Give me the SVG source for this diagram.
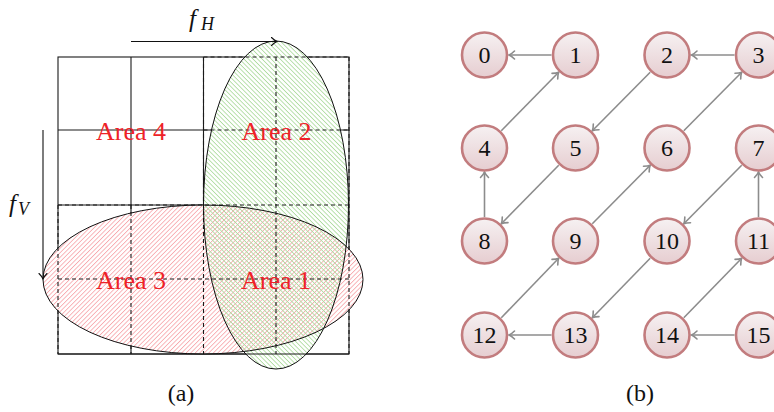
<svg xmlns="http://www.w3.org/2000/svg" width="774" height="412" viewBox="0 0 774 412">
<style>
.area{font-family:"Liberation Serif",serif;font-size:26px;fill:#ee2228;text-anchor:middle}
.math{font-family:"Liberation Serif",serif;font-style:italic;fill:#111}
.cap{font-family:"Liberation Serif",serif;font-size:24px;fill:#111;text-anchor:middle}
.node circle{fill:url(#ng);stroke:#c27c7e;stroke-width:2.6}
.node text{font-family:"Liberation Serif",serif;font-size:24px;fill:#111;text-anchor:middle}
.edge{stroke:#8c8c8c;stroke-width:1.6;fill:none;marker-end:url(#ah)}
</style>
<defs>
<pattern id="hr" patternUnits="userSpaceOnUse" x="0" y="0" width="3.2" height="3.2" patternTransform="rotate(-45)">
<rect x="0" y="0" width="3.2" height="0.85" fill="#f7a9ae"/>
</pattern>
<pattern id="hg" patternUnits="userSpaceOnUse" x="0" y="0" width="3.2" height="3.2" patternTransform="rotate(45)">
<rect x="0" y="0" width="3.2" height="0.85" fill="#addb9e"/>
</pattern>
<linearGradient id="ng" x1="0" y1="0" x2="0" y2="1">
<stop offset="0" stop-color="#f6f1f2"/>
<stop offset="1" stop-color="#e6cdd0"/>
</linearGradient>
<marker id="ah" markerUnits="userSpaceOnUse" markerWidth="12" markerHeight="12" viewBox="-8 -6 10 12" refX="0" refY="0" orient="auto" overflow="visible">
<path d="M-5.5,-4 C-3,-1.5 -1,-0.4 0,0 C-1,0.4 -3,1.5 -5.5,4" stroke="#8c8c8c" stroke-width="1.6" fill="none" stroke-linecap="round"/>
</marker>
<marker id="ak" markerUnits="userSpaceOnUse" markerWidth="12" markerHeight="12" viewBox="-8 -6 10 12" refX="0" refY="0" orient="auto" overflow="visible">
<path d="M-5.5,-4 C-3,-1.5 -1,-0.4 0,0 C-1,0.4 -3,1.5 -5.5,4" stroke="#111" stroke-width="1.1" fill="none" stroke-linecap="round"/>
</marker>
</defs>

<g id="panel-a">
<g id="grid-solid" stroke="#1a1a1a" stroke-width="1.1" fill="none">
<rect x="58" y="57" width="291" height="297"/>
<line x1="131" y1="57" x2="131" y2="354"/>
<line x1="203.5" y1="57" x2="203.5" y2="354"/>
<line x1="276" y1="57" x2="276" y2="354"/>
<line x1="58" y1="130" x2="349" y2="130"/>
<line x1="58" y1="205" x2="349" y2="205"/>
<line x1="58" y1="279" x2="349" y2="279"/>
</g>
<g id="ellipse-fills" stroke="none">
<ellipse cx="203" cy="279.5" rx="160" ry="74.5" fill="#ffffff"/>
<ellipse cx="276" cy="205" rx="72.5" ry="164" fill="#ffffff"/>
<ellipse cx="203" cy="279.5" rx="160" ry="74.5" fill="url(#hr)"/>
<ellipse cx="276" cy="205" rx="72.5" ry="164" fill="url(#hg)"/>
</g>
<g id="grid-dashed" stroke="#1a1a1a" stroke-width="1.1" fill="none" stroke-dasharray="4 3">
<line x1="58" y1="205" x2="58" y2="354"/>
<line x1="131" y1="205" x2="131" y2="354"/>
<line x1="203.5" y1="57" x2="203.5" y2="354"/>
<line x1="276" y1="57" x2="276" y2="354"/>
<line x1="349" y1="57" x2="349" y2="354"/>
<line x1="203.5" y1="57" x2="349" y2="57"/>
<line x1="203.5" y1="130" x2="349" y2="130"/>
<line x1="58" y1="205" x2="349" y2="205"/>
<line x1="58" y1="279" x2="349" y2="279"/>
</g>
<line id="grid-bottom" x1="58" y1="354" x2="349" y2="354" stroke="#1a1a1a" stroke-width="1.1"/>
<g id="ellipse-outlines" stroke="#111" stroke-width="1" fill="none">
<ellipse cx="203" cy="279.5" rx="160" ry="74.5"/>
<ellipse cx="276" cy="205" rx="72.5" ry="164"/>
</g>
<g id="axes">
<line x1="131" y1="41.5" x2="277" y2="41.5" stroke="#111" stroke-width="1.1" marker-end="url(#ak)"/>
<line x1="43" y1="130" x2="43" y2="279" stroke="#111" stroke-width="1.1" marker-end="url(#ak)"/>
<text class="math" x="189" y="27" font-size="25">f</text>
<text class="math" x="201" y="30" font-size="18">H</text>
<text class="math" x="9" y="212" font-size="25">f</text>
<text class="math" x="18" y="215" font-size="18">V</text>
</g>
<g id="labels">
<text class="area" x="131" y="140">Area 4</text>
<text class="area" x="276.5" y="140">Area 2</text>
<text class="area" x="131" y="289">Area 3</text>
<text class="area" x="276" y="289">Area 1</text>
</g>
<text class="cap" x="181" y="401">(a)</text>
</g>

<g id="panel-b">
<g id="connectors">
<line class="edge" x1="551.5" y1="55" x2="509" y2="55"/>
<line class="edge" x1="734.5" y1="55" x2="691.5" y2="55"/>
<line class="edge" x1="501.3" y1="130.8" x2="558.7" y2="72.2"/>
<line class="edge" x1="650.2" y1="72.2" x2="592.3" y2="130.8"/>
<line class="edge" x1="683.8" y1="130.8" x2="741.7" y2="72.2"/>
<line class="edge" x1="558.7" y1="165.2" x2="501.3" y2="223.8"/>
<line class="edge" x1="484.5" y1="217" x2="484.5" y2="172"/>
<line class="edge" x1="592.3" y1="223.8" x2="650.2" y2="165.2"/>
<line class="edge" x1="741.7" y1="165.2" x2="683.8" y2="223.8"/>
<line class="edge" x1="758.5" y1="217" x2="758.5" y2="172"/>
<line class="edge" x1="650.2" y1="258.2" x2="592.3" y2="317.8"/>
<line class="edge" x1="501.3" y1="317.8" x2="558.7" y2="258.2"/>
<line class="edge" x1="683.8" y1="317.8" x2="741.7" y2="258.2"/>
<line class="edge" x1="551.5" y1="335" x2="509" y2="335"/>
<line class="edge" x1="734.5" y1="335" x2="691.5" y2="335"/>
</g>
<g id="n0" class="node"><circle cx="484.5" cy="55" r="22.5"/><text x="484.5" y="63">0</text></g>
<g id="n1" class="node"><circle cx="575.5" cy="55" r="22.5"/><text x="575.5" y="63">1</text></g>
<g id="n2" class="node"><circle cx="667" cy="55" r="22.5"/><text x="667" y="63">2</text></g>
<g id="n3" class="node"><circle cx="758.5" cy="55" r="22.5"/><text x="758.5" y="63">3</text></g>
<g id="n4" class="node"><circle cx="484.5" cy="148" r="22.5"/><text x="484.5" y="156">4</text></g>
<g id="n5" class="node"><circle cx="575.5" cy="148" r="22.5"/><text x="575.5" y="156">5</text></g>
<g id="n6" class="node"><circle cx="667" cy="148" r="22.5"/><text x="667" y="156">6</text></g>
<g id="n7" class="node"><circle cx="758.5" cy="148" r="22.5"/><text x="758.5" y="156">7</text></g>
<g id="n8" class="node"><circle cx="484.5" cy="241" r="22.5"/><text x="484.5" y="249">8</text></g>
<g id="n9" class="node"><circle cx="575.5" cy="241" r="22.5"/><text x="575.5" y="249">9</text></g>
<g id="n10" class="node"><circle cx="667" cy="241" r="22.5"/><text x="667" y="249">10</text></g>
<g id="n11" class="node"><circle cx="758.5" cy="241" r="22.5"/><text x="758.5" y="249">11</text></g>
<g id="n12" class="node"><circle cx="484.5" cy="335" r="22.5"/><text x="484.5" y="343">12</text></g>
<g id="n13" class="node"><circle cx="575.5" cy="335" r="22.5"/><text x="575.5" y="343">13</text></g>
<g id="n14" class="node"><circle cx="667" cy="335" r="22.5"/><text x="667" y="343">14</text></g>
<g id="n15" class="node"><circle cx="758.5" cy="335" r="22.5"/><text x="758.5" y="343">15</text></g>
<text class="cap" x="640" y="401">(b)</text>
</g>
</svg>
